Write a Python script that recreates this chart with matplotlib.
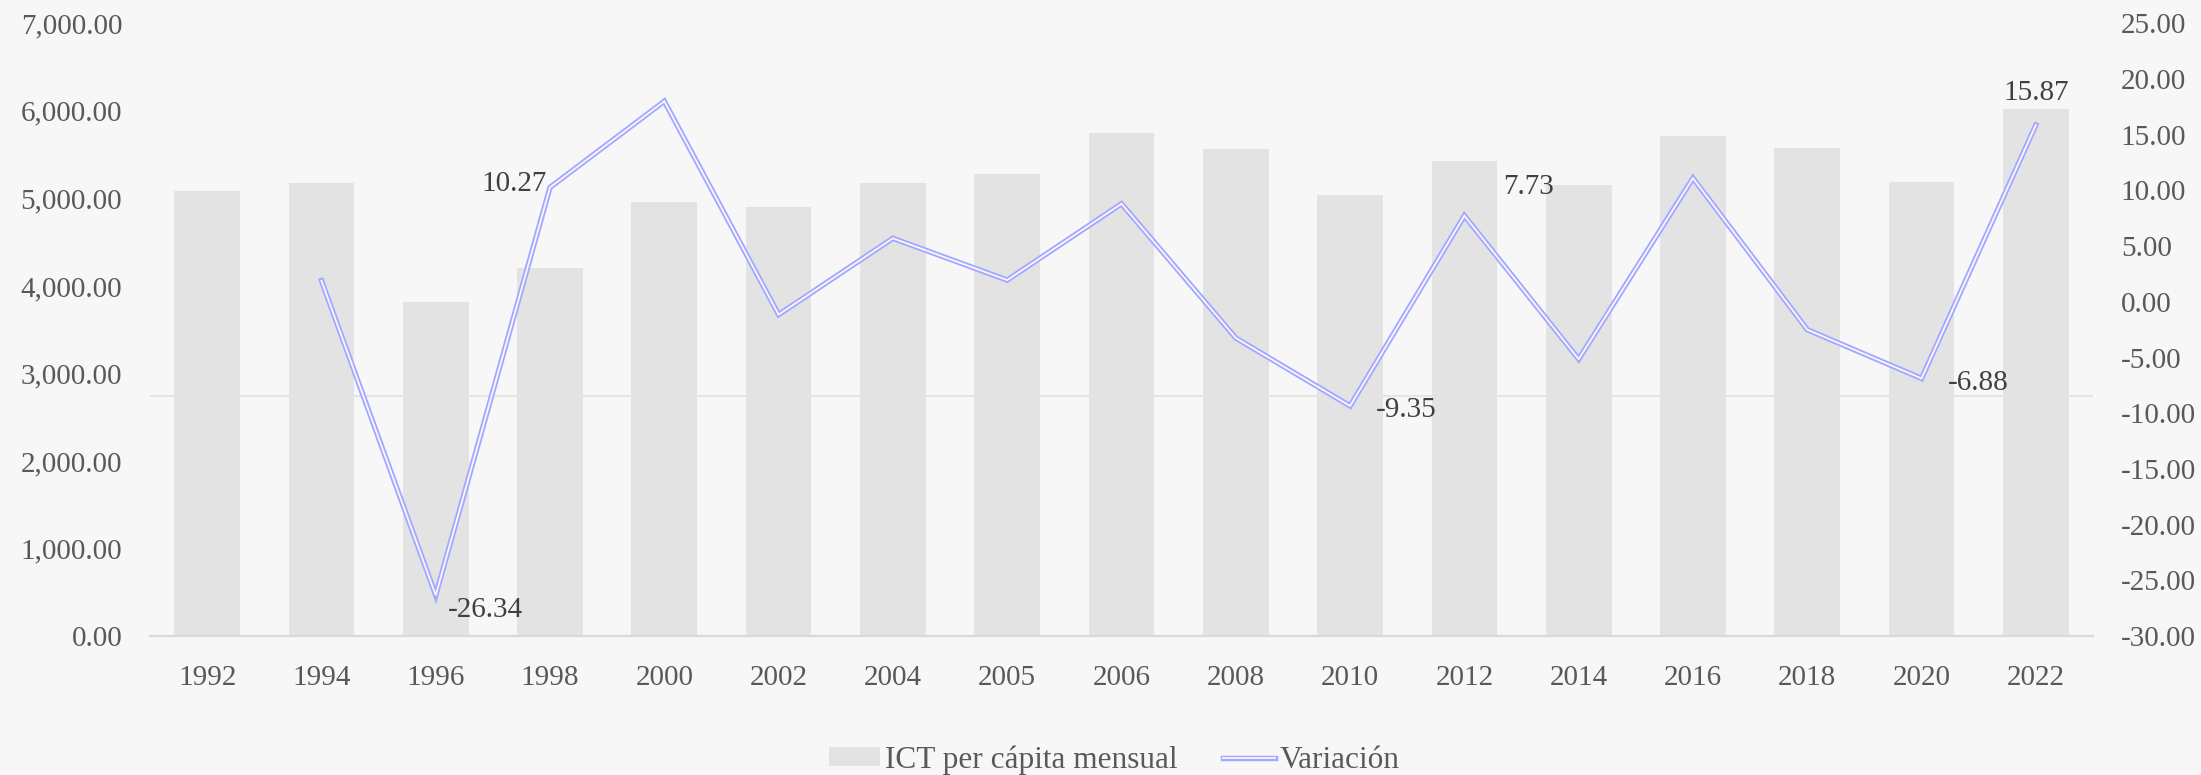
import matplotlib
matplotlib.use("Agg")
import matplotlib.pyplot as plt
import matplotlib.patheffects as pe
from matplotlib.ticker import FuncFormatter, MultipleLocator
import numpy as np

# ---------------- data ----------------
years = ["1992", "1994", "1996", "1998", "2000", "2002", "2004", "2005", "2006",
         "2008", "2010", "2012", "2014", "2016", "2018", "2020", "2022"]
ict_per_capita = [5084, 5181, 3816, 4205, 4962, 4902, 5181, 5278, 5748,
                  5562, 5037, 5427, 5148, 5718, 5579, 5190, 6022]
variacion = [np.nan, 1.9, -26.34, 10.27, 18.0, -1.15, 5.7, 1.95, 8.8,
             -3.25, -9.35, 7.73, -5.15, 11.1, -2.5, -6.88, 15.87]
labeled_years = ["1996", "1998", "2010", "2012", "2020", "2022"]
ref_line_value = 2740
bar_label = "ICT per cápita mensual"
line_label = "Variación"

# ---------------- style ----------------
BG = "#f7f7f7"
BAR = "#e3e3e3"
TXT = "#595959"
LBL = "#404040"
FONT = ["Liberation Serif", "DejaVu Serif"]
plt.rcParams["font.family"] = FONT
FS = 21
LFS = 22.5

W, H = 2201, 775
fig = plt.figure(figsize=(W / 100, H / 100), dpi=100, facecolor=BG)
ax = fig.add_axes([150 / W, 1 - 636 / H, (2093 - 150) / W, (636 - 23.3) / H])
ax.set_facecolor(BG)
ax2 = ax.twinx()

x = np.arange(len(years))
bars = ax.bar(x, ict_per_capita, width=0.575, color=BAR, zorder=2, label=bar_label)
ax.axhline(ref_line_value, color="#e2e2e2", lw=1.2, zorder=1)

ax.set_xlim(-0.5, len(years) - 0.5)
ax.set_ylim(0, 7000)
ax.yaxis.set_major_locator(MultipleLocator(1000))
ax.yaxis.set_major_formatter(FuncFormatter(lambda v, p: f"{v:,.2f}"))
ax.set_xticks(x)
ax.set_xticklabels(years)

ax2.set_ylim(-30, 25)
ax2.yaxis.set_major_locator(MultipleLocator(5))
ax2.yaxis.set_major_formatter(FuncFormatter(lambda v, p: f"{v:.2f}"))

line, = ax2.plot(x, variacion, color="#f8f8ff", lw=1.3, zorder=5,
                 solid_joinstyle="miter", label=line_label,
                 path_effects=[pe.Stroke(linewidth=3.9, foreground="#a3a7ff"), pe.Normal()])

for a in (ax, ax2):
    for s in a.spines.values():
        s.set_visible(False)
    a.tick_params(length=0, labelsize=FS, labelcolor=TXT)
ax.spines["bottom"].set_visible(True)
ax.spines["bottom"].set_color("#d9d9d9")
ax.spines["bottom"].set_linewidth(1.6)
ax.spines["bottom"].set_zorder(3)
ax.tick_params(axis="y", pad=20)
ax.tick_params(axis="x", pad=21)
ax2.tick_params(axis="y", pad=20)

# data labels (offsets in pixels)
label_offsets = {
    "1996": (12, -15, "left"),
    "1998": (-3, 3, "right"),
    "2010": (26, -4.5, "left"),
    "2012": (39, 28.5, "left"),
    "2020": (26, -4.5, "left"),
    "2022": (0, 32, "center"),
}
for yr in labeled_years:
    i = years.index(yr)
    dx, dy, ha = label_offsets[yr]
    ax2.annotate(f"{variacion[i]:.2f}", (x[i], variacion[i]),
                 xytext=(dx * 0.72, dy * 0.72), textcoords="offset points",
                 ha=ha, va="center", fontsize=FS, color=LBL, zorder=6)

leg = fig.legend(handles=[bars, line], labels=[bar_label, line_label],
                 loc="center", bbox_to_anchor=(1114 / W, 1 - 760 / H),
                 ncol=2, frameon=False, fontsize=LFS, handlelength=1.65,
                 handleheight=0.55, handletextpad=0.15, columnspacing=1.45,
                 labelcolor=TXT)

fig.savefig("out.png", dpi=100, facecolor=BG)
